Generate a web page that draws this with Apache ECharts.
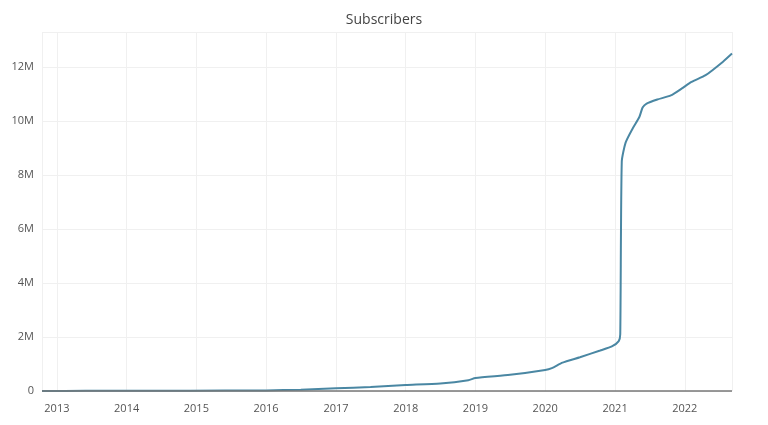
<!DOCTYPE html>
<html>
<head>
<meta charset="utf-8">
<script src="https://cdn.jsdelivr.net/npm/echarts@6/dist/echarts.min.js"></script>
<style>html,body{margin:0;background:#fff}#c{width:768px;height:425px}</style>
</head>
<body>
<div id="c"></div>
<script>
const dates = ['2012-10-15','2013-06-01','2014-06-01','2015-06-01','2016-01-01','2016-07-01','2017-01-01','2017-07-01','2018-01-01','2018-07-01','2018-11-25','2019-01-01','2019-07-01','2020-01-01','2020-02-05','2020-04-01','2020-07-01','2020-10-15','2020-12-15','2021-01-20','2021-01-28','2021-02-05','2021-02-25','2021-04-01','2021-05-08','2021-05-25','2021-06-15','2021-08-10','2021-10-20','2021-12-15','2022-02-05','2022-04-20','2022-07-20','2022-09-05']
const subscribers = [0.0,0.005,0.01,0.015,0.02,0.05,0.1,0.15,0.22,0.28,0.4,0.48,0.6,0.78,0.85,1.05,1.25,1.5,1.65,1.85,2.1,8.5,9.2,9.7,10.15,10.5,10.65,10.8,10.95,11.2,11.45,11.7,12.2,12.5]

const chart = echarts.init(document.getElementById('c'))
chart.setOption({
  title: { text: 'Subscribers', left: 'center', top: 8, textStyle: { fontFamily: 'Open Sans', fontSize: 14, fontWeight: 'normal', color: '#444' } },
  grid: { left: 42, right: 36, top: 32, bottom: 34 },
  xAxis: {
    type: 'time', min: '2012-10-15', max: '2022-09-05',
    minInterval: 365 * 24 * 3600 * 1000, maxInterval: 366 * 24 * 3600 * 1000,
    axisLine: { show: false }, axisTick: { show: false },
    axisLabel: { formatter: '{yyyy}', color: '#555', fontFamily: 'Open Sans', fontSize: 11, margin: 12 },
    splitLine: { show: true, lineStyle: { color: '#f0f0f0' } }
  },
  yAxis: {
    type: 'value', min: 0, max: 13.3e6, interval: 2e6,
    axisLine: { show: false }, axisTick: { show: false },
    axisLabel: { formatter: v => v === 0 ? '0' : (v / 1e6) + 'M', color: '#555', fontFamily: 'Open Sans', fontSize: 11, margin: 8, showMaxLabel: false },
    splitLine: { lineStyle: { color: '#f0f0f0' } }
  },
  series: [{
    type: 'line', showSymbol: false, smooth: 0.2,
    data: dates.map((d, i) => [d, subscribers[i] * 1e6]),
    lineStyle: { color: '#4a87a3', width: 2 },
    markLine: { silent: true, symbol: 'none', label: { show: false }, data: [{ yAxis: 0 }], lineStyle: { color: '#777', type: 'solid', width: 1.5 } }
  }],
  animation: false
})
</script>
</body>
</html>
